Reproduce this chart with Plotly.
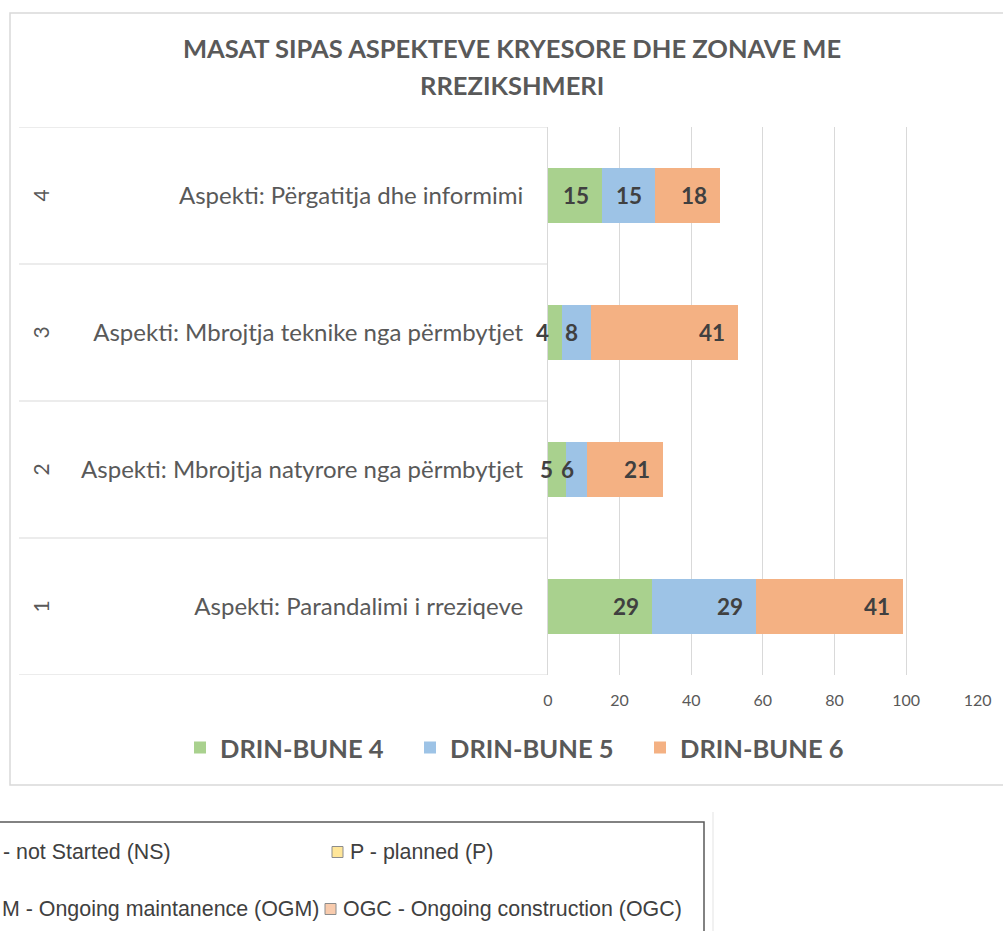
import plotly.graph_objects as go

# ---- data ----
aspects = [
    "Aspekti: Parandalimi i rreziqeve",
    "Aspekti: Mbrojtja natyrore nga përmbytjet",
    "Aspekti: Mbrojtja teknike nga përmbytjet",
    "Aspekti: Përgatitja dhe informimi",
]
aspect_numbers = ["1", "2", "3", "4"]
series_names = ["DRIN-BUNE 4", "DRIN-BUNE 5", "DRIN-BUNE 6"]
drin_bune_4 = [29, 5, 4, 15]
drin_bune_5 = [29, 6, 8, 15]
drin_bune_6 = [41, 21, 41, 18]
x_ticks = [0, 20, 40, 60, 80, 100, 120]

title_lines = ["MASAT SIPAS ASPEKTEVE KRYESORE DHE ZONAVE ME", "RREZIKSHMERI"]
status_rows = [
    ("- not Started (NS)", "P - planned (P)", "#ffe699"),
    ("M - Ongoing maintanence (OGM)", "OGC - Ongoing construction (OGC)", "#f8cbad"),
]

# ---- style ----
W, H = 1003, 931
colors = ["#a9d18e", "#9dc3e6", "#f4b183"]
grid = "#d9d9d9"
txt = "#595959"
FONT = "Lato, 'Open Sans', sans-serif"


def px(x):
    return x / W


def py(y):
    return 1 - y / H


series = [drin_bune_4, drin_bune_5, drin_bune_6]

fig = go.Figure()
for name, vals, col in zip(series_names, series, colors):
    fig.add_trace(go.Bar(
        name=name, y=aspects, x=vals, orientation="h",
        marker=dict(color=col, line=dict(width=0)),
        hoverinfo="x+name",
    ))

annotations = []

# value labels at the inner end of every segment
cum = [0] * len(aspects)
for vals in series:
    for i, v in enumerate(vals):
        cum[i] += v
        annotations.append(dict(
            x=cum[i], y=aspects[i], xref="x", yref="y", text=str(v),
            xanchor="right", yanchor="middle", xshift=-11, showarrow=False,
            font=dict(family=FONT, size=22.5, color="#404040", weight="bold"),
        ))

# outer level of the category axis (rotated numbers)
for i, num in enumerate(aspect_numbers):
    annotations.append(dict(
        x=px(40), y=aspects[i], xref="paper", yref="y", text=num,
        textangle=-90, showarrow=False, xanchor="center", yanchor="middle",
        font=dict(family=FONT, size=21, color=txt),
    ))

# chart title
for line, yc in zip(title_lines, [48, 85]):
    annotations.append(dict(
        x=px(512), y=py(yc), xref="paper", yref="paper", text=line,
        showarrow=False, xanchor="center", yanchor="middle",
        font=dict(family=FONT, size=25.5, color=txt, weight="bold"),
    ))

# status key below the chart
SFONT = "'Liberation Sans', Arial, sans-serif"
for (left, right, sw), yc, lx, rx in zip(status_rows, [852, 909], [173, 321], [348, 341]):
    annotations.append(dict(
        x=px(lx), y=py(yc), xref="paper", yref="paper", text=left,
        showarrow=False, xanchor="right", yanchor="middle",
        font=dict(family=SFONT, size=21.4, color="#404040"),
    ))
    annotations.append(dict(
        x=px(rx), y=py(yc), xref="paper", yref="paper", text=right,
        showarrow=False, xanchor="left", yanchor="middle",
        font=dict(family=SFONT, size=21.4, color="#404040"),
    ))

shapes = []
# chart frame
shapes.append(dict(type="rect", xref="paper", yref="paper",
                   x0=px(10), x1=px(1020), y0=py(785), y1=py(13),
                   line=dict(color=grid, width=1.5), layer="below"))
# category dividers
for k in range(len(aspects) + 1):
    shapes.append(dict(type="line", xref="paper", yref="y",
                       x0=px(19), x1=px(548), y0=k - 0.5, y1=k - 0.5,
                       line=dict(color=grid, width=1)))
# status key frame and swatches
shapes.append(dict(type="rect", xref="paper", yref="paper",
                   x0=px(-5), x1=px(704), y0=py(945), y1=py(822),
                   line=dict(color="#595959", width=1.5)))
shapes.append(dict(type="line", xref="paper", yref="paper",
                   x0=px(713), x1=px(713), y0=py(812), y1=py(931),
                   line=dict(color="#e3e3e3", width=1)))
for (left, right, sw), yc, rx in zip(status_rows, [852, 909], [348, 341]):
    shapes.append(dict(type="rect", xref="paper", yref="paper",
                       x0=px(rx - 16), x1=px(rx - 5), y0=py(yc + 5.5), y1=py(yc - 5.5),
                       fillcolor=sw, line=dict(color="#8c8c8c", width=1)))

fig.update_layout(
    width=W, height=H,
    margin=dict(l=0, r=0, t=0, b=0),
    paper_bgcolor="white", plot_bgcolor="white",
    barmode="stack", bargap=0.6,
    font=dict(family=FONT, color=txt),
    showlegend=True,
    legend=dict(
        orientation="h", traceorder="normal",
        x=px(180), xanchor="left", y=py(748), yanchor="middle",
        entrywidth=185, entrywidthmode="pixels",
        font=dict(family=FONT, size=25.5, color=txt, weight="bold"),
        itemclick=False, itemdoubleclick=False,
    ),
    xaxis=dict(
        domain=[px(548), px(977.7)], range=[0, 120], tickvals=x_ticks,
        showgrid=True, gridcolor=grid, gridwidth=1, zeroline=False,
        showline=False, ticks="", ticklabelstandoff=14,
        tickfont=dict(family=FONT, size=16, color=txt),
        automargin=False, fixedrange=True,
    ),
    yaxis=dict(
        domain=[py(675), py(127)], type="category", categoryorder="array",
        categoryarray=aspects, range=[-0.5, len(aspects) - 0.5],
        showgrid=False, zeroline=False, showline=True, linecolor=grid, linewidth=1,
        ticks="", ticklabelstandoff=19,
        tickfont=dict(family=FONT, size=24, color=txt),
        automargin=False, fixedrange=True,
    ),
    annotations=annotations, shapes=shapes,
)

fig.write_html("out.html")
